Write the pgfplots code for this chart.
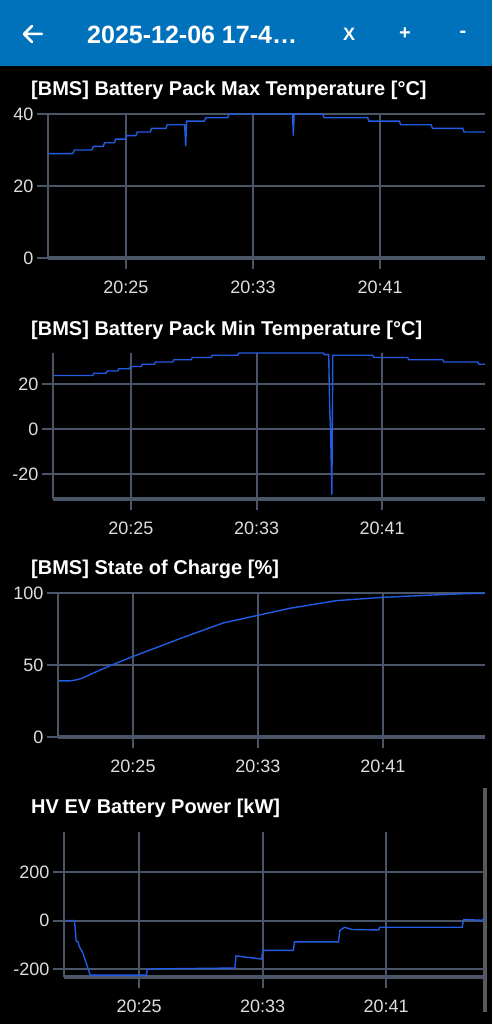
\documentclass[border=0pt]{standalone}
\usepackage{pgfplots}
\pgfplotsset{compat=1.18}
\usepackage{fontspec}
\setmainfont{Liberation Sans}

\definecolor{bar}{RGB}{0,114,188}
\definecolor{gridc}{RGB}{74,85,104}
\definecolor{linec}{RGB}{34,92,226}
\definecolor{lbl}{RGB}{222,222,222}

% look of the phone app charts
\pgfplotsset{
  phone/.style={
    scale only axis,
    anchor=south west,
    axis x line=bottom, axis y line=left,
    axis line style={-, gridc},
    x axis line style={line width=4pt},
    y axis line style={line width=2pt},
    grid=major,
    major grid style={gridc, line width=2pt},
    major tick style={gridc, line width=2pt},
    major tick length=11pt,
    tick align=outside,
    xtick={25,33,41},
    xticklabels={20:25,20:33,20:41},
    ticklabel style={font=\fontsize{18}{20}\selectfont, text=lbl},
    xticklabel style={yshift=-8pt},
    /pgf/number format/assume math mode=true,
    title style={anchor=base west, at={(0,1)}, inner sep=0pt,
      font=\fontsize{20}{24}\selectfont\bfseries, text=white},
    clip=false,
  },
  data/.style={linec, line width=1.4pt, mark=none},
}

\begin{document}
\begin{tikzpicture}
\useasboundingbox (0,0) rectangle (492pt,1024pt);
\fill[black] (0,0) rectangle (492pt,1024pt);

% app bar
\fill[bar] (0,958pt) rectangle (492pt,1024pt);
\draw[white, line width=2.5pt, line cap=round, line join=round]
  (32pt,998pt) -- (24pt,990pt) -- (32pt,982pt) (24pt,990pt) -- (42pt,990pt);
\node[anchor=base west, inner sep=0pt, text=white, font=\fontsize{25}{30}\selectfont\bfseries]
  at (87pt,980pt) {2025-12-06 17-4…};
\node[anchor=base, inner sep=0pt, text=white, font=\fontsize{18}{20}\selectfont\bfseries]
  at (349pt,983.5pt) {X};
\node[text=white, font=\fontsize{20}{22}\selectfont\bfseries] at (405pt,990pt) {+};
\node[text=white, font=\fontsize{20}{22}\selectfont\bfseries] at (463pt,990pt) {-};

% scroll bar
\fill[gray!70!black] (483pt,12pt) rectangle (487pt,236pt);

% 1: max temperature
\begin{axis}[phone, at={(48pt,766pt)}, width=437pt, height=144pt,
  xmin=20.09, xmax=47.61, ymin=0, ymax=40, ytick={0,20,40},
  title={[BMS] Battery Pack Max Temperature [°C]},
  title style={xshift=-17pt, yshift=12pt}]
\addplot[data] coordinates {
  (20.1,29) (21.65,29) (21.75,30) (22.85,30) (22.95,31) (23.57,31) (23.65,32)
  (24.27,32) (24.35,33) (24.96,33) (25.04,34) (25.63,34) (25.71,35) (26.53,35)
  (26.61,36) (27.52,36) (27.6,37) (28.7,37) (28.76,31) (28.82,38) (29.94,38)
  (30.02,39) (31.41,39) (31.49,40) (35.49,40) (35.54,34) (35.59,40) (37.39,40)
  (37.47,39) (40.22,39) (40.3,38) (42.22,38) (42.3,37) (44.22,37) (44.3,36)
  (46.21,36) (46.29,35) (47.6,35)
};
\end{axis}

% 2: min temperature
\begin{axis}[phone, at={(53pt,525pt)}, width=432pt, height=146pt,
  xmin=20.03, xmax=47.56, ymin=-31, ymax=34, ytick={-20,0,20},
  title={[BMS] Battery Pack Min Temperature [°C]},
  title style={xshift=-22pt, yshift=11.5pt}]
\addplot[data] coordinates {
  (20.1,24) (22.56,24) (22.64,25) (23.41,25) (23.49,26) (24.15,26) (24.23,27)
  (24.9,27) (24.98,28) (25.64,28) (25.72,29) (26.49,29) (26.57,30) (27.66,30)
  (27.74,31) (28.83,31) (28.91,32) (30.1,32) (30.18,33) (31.8,33) (31.88,34)
  (37.26,34) (37.32,33.3) (37.6,33.3) (37.66,10) (37.72,0) (37.8,-29) (37.86,33)
  (40.4,33) (40.48,32) (42.63,32) (42.71,31) (44.86,31) (44.94,30) (47.09,30)
  (47.17,29) (47.56,29)
};
\end{axis}

% 3: state of charge
\begin{axis}[phone, at={(58pt,287pt)}, width=427pt, height=144pt,
  xmin=20.2, xmax=47.53, ymin=0, ymax=100, ytick={0,50,100},
  title={[BMS] State of Charge [\%]},
  title style={xshift=-27pt, yshift=12pt}]
\addplot[data] coordinates {
  (20.28,39) (20.97,39) (21.35,39.6) (21.72,40.7) (22.46,44.4) (23.53,49.5)
  (25.02,56) (26.09,60.4) (28.22,69.2) (30.78,79.2) (33.08,84.7) (35.05,89.4)
  (38.04,94.7) (41.02,97) (44.22,98.6) (46.14,99.5) (47.53,99.8)
};
\end{axis}

% 4: battery power
\begin{axis}[phone, at={(64pt,47pt)}, width=421pt, height=145pt,
  xmin=20.14, xmax=47.41, ymin=-233, ymax=365, ytick={-200,0,200},
  title={HV EV Battery Power [kW]},
  title style={xshift=-33pt, yshift=12.7pt}]
\addplot[data] coordinates {
  (20.29,0) (20.82,0) (20.93,-85) (21.05,-88) (21.12,-106) (21.36,-134)
  (21.5,-161) (21.65,-189) (21.84,-225) (25.48,-225) (25.54,-200) (31.21,-196)
  (31.28,-146) (32.95,-159) (33.01,-123) (35.0,-123) (35.07,-88) (37.92,-88)
  (38.01,-41) (38.31,-28) (38.79,-37) (40.52,-39) (40.58,-28) (45.93,-28)
  (46.02,4) (47.23,1) (47.41,14)
};
\end{axis}
\end{tikzpicture}
\end{document}
